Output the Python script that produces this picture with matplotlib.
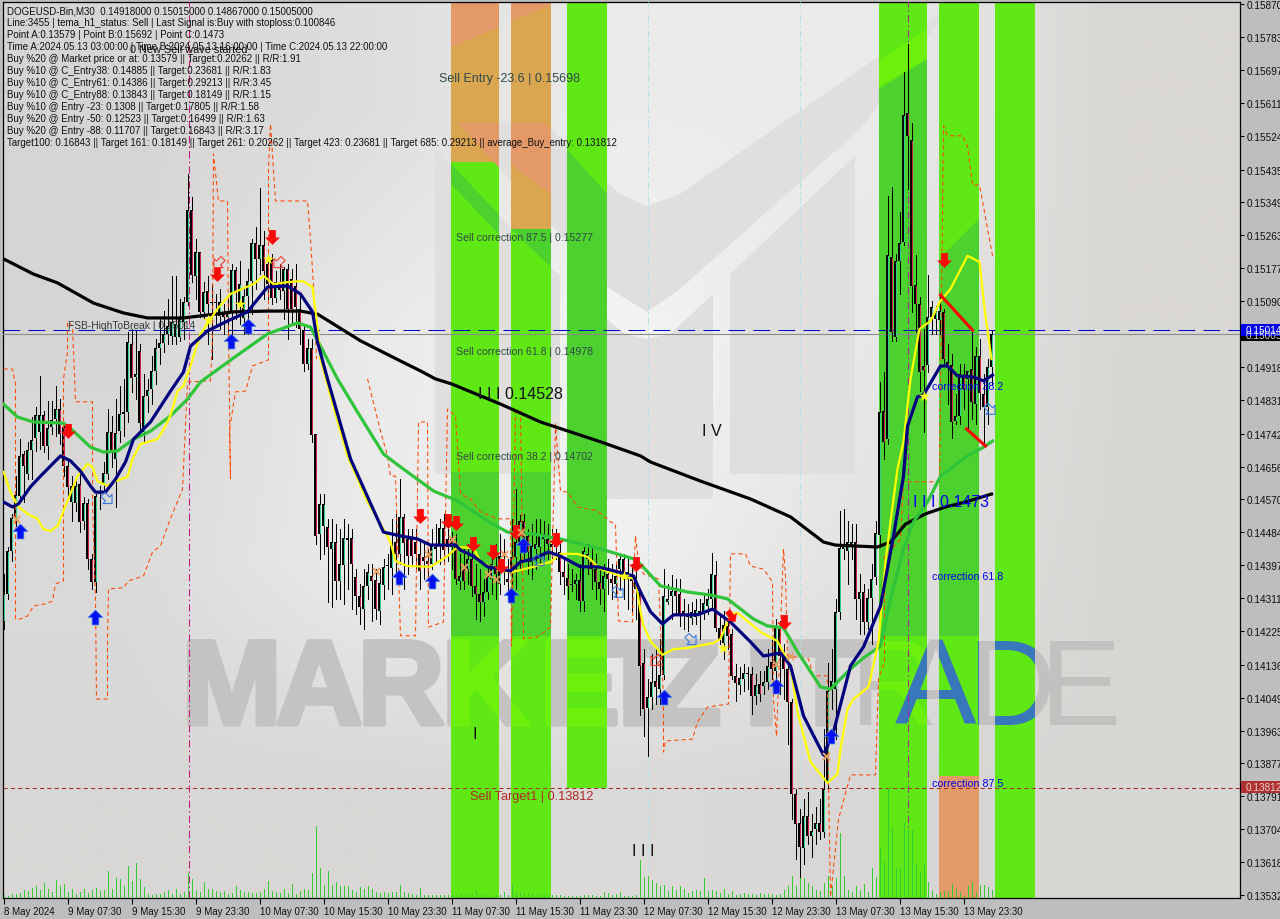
import numpy as np
import matplotlib
matplotlib.use('Agg')
import matplotlib.pyplot as plt
import matplotlib.patheffects as pe
from matplotlib.colors import to_rgb
from matplotlib.patches import Polygon, Rectangle
from matplotlib.path import Path
from matplotlib.transforms import Affine2D, Bbox

# %% data: prices are in 1e-5 units, bars are counted from the left edge

opens = [14251,14322,14435,14521,14579,14689,14637,14700,14731,14747,14791,14710,14760,14781,14807,14760,14658,14563,14561,14610,
 14513,14561,14414,14353,14584,14610,14637,14747,14676,14749,14794,14799,14978,14891,14959,14747,14841,14860,14907,14967,
 14980,15004,14999,14996,14996,15035,15088,15329,15156,15219,15062,15117,15088,15088,15051,15062,15049,15062,15172,15083,
 15046,15104,15143,15243,15201,15238,15188,15198,15098,15140,15117,15175,15148,15130,15070,15014,14925,14967,14742,14479,
 14500,14498,14440,14458,14356,14398,14463,14469,14366,14316,14282,14343,14369,14358,14277,14345,14395,14390,14458,14427,
 14524,14466,14466,14458,14427,14419,14408,14400,14440,14448,14495,14466,14466,14458,14356,14387,14387,14414,14343,14322,
 14301,14327,14361,14387,14348,14414,14361,14387,14419,14458,14513,14474,14406,14440,14445,14466,14466,14453,14445,14432,
 14380,14364,14348,14348,14358,14303,14414,14406,14387,14353,14335,14374,14361,14348,14387,14414,14380,14366,14361,14327,
 14141,14023,14052,14094,14072,14109,14301,14316,14330,14322,14277,14267,14259,14261,14277,14269,14290,14309,14372,14233,
 14194,14238,14217,14107,14083,14099,14114,14112,14054,14086,14080,14091,14143,14120,14230,14164,14125,14038,13797,13721,
 13655,13739,13687,13705,13721,13697,13828,14072,14072,14275,14440,14435,14450,14458,14309,14327,14248,14311,14366,14476,
 14802,14728,15206,14996,15196,15245,15584,15513,15133,15083,14920,14923,15049,15043,15041,15062,14930,14923,14776,14789,
 14896,14886,14912,14820,14946,14847,14812,14917]
highs = [14374,14445,14532,14631,14728,14697,14721,14786,14812,14894,14802,14828,14828,14868,14833,14762,14676,14631,14624,14637,
 14576,14571,14427,14584,14605,14668,14807,14789,14833,14868,14886,15009,15017,15012,14978,14899,14886,14946,14991,15043,
 15064,15096,15156,15156,15096,15101,15424,15363,15253,15219,15140,15156,15135,15109,15122,15083,15096,15188,15180,15195,
 15122,15175,15253,15285,15387,15274,15214,15214,15169,15188,15180,15188,15175,15188,15109,15030,14991,14991,14742,14584,
 14584,14519,14519,14505,14492,14519,14505,14492,14387,14348,14387,14400,14400,14387,14387,14414,14427,14519,14532,14624,
 14532,14492,14492,14492,14466,14453,14440,14492,14505,14519,14532,14492,14484,14479,14427,14440,14453,14440,14400,14387,
 14361,14400,14440,14453,14479,14466,14414,14519,14597,14529,14532,14492,14505,14519,14519,14513,14505,14492,14492,14453,
 14419,14400,14387,14374,14400,14445,14453,14445,14427,14387,14400,14414,14400,14400,14427,14427,14414,14400,14387,14335,
 14177,14099,14164,14177,14204,14387,14348,14372,14361,14361,14309,14296,14301,14309,14309,14322,14335,14429,14408,14269,
 14277,14256,14230,14138,14130,14138,14130,14130,14112,14120,14120,14177,14204,14256,14251,14191,14151,14046,13810,13758,
 13784,13802,13744,13763,13784,13968,14141,14177,14309,14540,14545,14513,14505,14505,14374,14348,14335,14400,14513,14878,
 14904,15366,15390,15214,15324,15692,15765,15558,15211,15101,15017,15159,15091,15077,15101,15070,14978,14952,14846,14925,
 14925,14907,15012,14970,14991,14899,14938,15014]
lows = [14230,14309,14408,14500,14571,14563,14624,14624,14697,14702,14694,14676,14742,14736,14715,14631,14576,14513,14540,14484,
 14492,14387,14335,14327,14545,14592,14624,14655,14550,14721,14736,14773,14852,14833,14747,14721,14799,14820,14873,14925,
 14957,14978,14978,14978,14986,14991,15080,15140,15096,15049,15043,14978,14938,15030,15017,15004,14991,14991,15043,15030,
 15004,15004,15056,15122,15161,15096,15096,15083,15088,15096,15043,14991,15030,15022,14978,14907,14912,14721,14453,14414,
 14427,14301,14288,14309,14309,14296,14335,14282,14269,14243,14230,14309,14251,14256,14243,14309,14335,14322,14361,14400,
 14335,14374,14400,14387,14335,14361,14356,14387,14408,14400,14400,14408,14387,14348,14335,14335,14348,14316,14256,14251,
 14264,14309,14322,14309,14322,14348,14309,14330,14335,14387,14414,14374,14361,14387,14400,14414,14414,14408,14414,14348,
 14322,14309,14330,14309,14277,14277,14374,14335,14309,14296,14277,14322,14309,14314,14335,14309,14282,14277,14256,14004,
 13949,13897,14020,14033,14033,14099,14296,14256,14269,14238,14230,14225,14243,14243,14204,14256,14269,14282,14225,14191,
 14151,14177,14099,14041,14059,14067,14072,14007,14033,14041,14059,14072,14099,14072,14059,14046,13928,13731,13626,13579,
 13613,13666,13631,13666,13679,13684,13810,14020,13941,14256,14414,14348,14414,14256,14217,14217,14230,14191,14348,14445,
 14676,14715,14986,14986,15109,15238,15384,15062,15009,14854,14747,14904,15004,15004,15004,14925,14820,14731,14768,14768,
 14807,14755,14781,14768,14807,14710,14768,14873]
closes = [14322,14435,14521,14582,14684,14658,14700,14726,14791,14791,14710,14757,14778,14807,14742,14658,14602,14605,14605,14511,
 14561,14414,14353,14579,14589,14639,14747,14697,14744,14794,14799,14983,14888,14899,14770,14841,14857,14907,14967,14980,
 15004,15025,15035,15030,15043,15088,15329,15159,15219,15062,15114,15083,15085,15085,15088,15049,15062,15172,15112,15135,
 15104,15143,15243,15201,15238,15169,15135,15098,15140,15119,15175,15070,15070,15075,15017,14925,14967,14739,14474,14558,
 14558,14445,14458,14356,14400,14469,14469,14400,14316,14288,14343,14380,14356,14282,14351,14393,14398,14448,14427,14524,
 14456,14421,14421,14427,14382,14408,14400,14448,14445,14495,14437,14445,14445,14361,14369,14356,14414,14343,14322,14301,
 14327,14369,14400,14374,14421,14387,14353,14419,14458,14513,14471,14432,14448,14453,14479,14479,14453,14445,14458,14380,
 14366,14343,14345,14358,14303,14435,14427,14387,14353,14335,14369,14361,14351,14369,14414,14374,14361,14356,14335,14133,
 14020,14052,14091,14078,14109,14316,14309,14330,14316,14264,14267,14261,14275,14280,14267,14298,14309,14374,14233,14204,
 14241,14212,14107,14088,14101,14114,14112,14054,14083,14059,14091,14133,14125,14235,14159,14125,14038,13797,13718,13658,
 13739,13687,13700,13721,13697,13810,14067,14094,14275,14442,14453,14458,14458,14309,14327,14248,14311,14361,14482,14799,
 14721,15211,15009,15196,15243,15579,15523,15130,15083,14904,14910,15049,15075,15064,15064,14938,14923,14773,14789,14899,
 14860,14907,14825,14946,14849,14812,14917,15004]
volumes = [3,2,4,4,5,8,7,10,12,8,15,9,6,18,12,14,6,9,4,6,9,5,8,10,7,
 8,27,9,20,19,12,32,17,35,19,11,
 4,3,4,4,6,8,4,9,4,6,
 25,19,8,6,16,9,9,7,6,7,4,5,12,8,6,6,5,5,6,9,17,7,6,5,9,5,14,4,7,9,8,
 25,72,30,13,27,13,16,12,12,12,8,6,11,9,12,9,6,5,6,5,6,
 6,13,6,5,4,3,10,3,3,3,3,3,3,3,3,3,4,3,3,3,7,3,3,2,2,3,3,6,3,14,5,5,4,4,4,3,3,3,3,3,3,3,2,2,2,2,2,3,3,3,2,2,6,5,3,4,6,2,2,2,3,
 38,21,22,18,15,12,13,7,12,8,12,9,5,7,8,7,20,7,8,7,5,9,4,7,3,4,5,4,4,3,5,4,4,4,3,4,8,12,22,12,35,20,15,12,8,7,15,22,12,20,65,22,8,6,12,8,
 14,6,30,21,50,36,110,70,30,31,75,68,68,33,26,33,16,8,4,6,7,7,14,9,6,2,12,16,6,13,13,11,8]

ma_slow_x = [0,7.5,13.5,22.5,30,36,45,57.5,66,74.25,78.5,81.75,89.25,99.25,104.25,108,112,124.25,134.25,149.25,159.25,161.75,174.25,186.75,196.75,205,208,218.5,221.75,225.5,230.5,235.5,240.5,247]
ma_slow_y = [15201,15161,15138,15085,15059,15046,15046,15062,15064,15064,15056,15035,14986,14933,14907,14886,14873,14820,14773,14721,14684,14668,14618,14571,14524,14458,14450,14445,14458,14505,14532,14550,14563,14584]

tema_x = [0,2.25,3.75,6.75,9.25,14.25,16.75,19.25,21.75,23,25.5,28,30.5,32.5,36.75,41.75,45,46.75,51,56,61,66,71,74.25,77.25,78.5,81,86.75,95,99.25,103.5,106.75,113,114.25,117.5,121,126.75,129.25,132.5,136.25,139.25,144.25,148.5,153.5,157.5,159.25,161.75,164.75,167.5,173.5,177.25,181.75,186.75,190,194.25,196.75,200,205,207.5,211.75,215,219.25,222.5,225,226,228.5,230,234.25,236,238.5,242.5,245,247.25]
tema_y = [14563,14550,14558,14603,14631,14684,14671,14644,14605,14589,14589,14623,14668,14728,14773,14854,14904,14972,15012,15038,15062,15127,15130,15109,15062,14983,14886,14676,14484,14474,14466,14450,14450,14437,14421,14393,14382,14406,14414,14432,14421,14393,14393,14380,14369,14327,14275,14243,14267,14267,14282,14248,14196,14159,14167,14133,14002,13899,13960,14133,14183,14290,14474,14631,14762,14839,14844,14920,14920,14894,14891,14881,14896]

fast_x = [0,1.75,3.5,6,8.5,10,11.75,13.5,16,18.5,21,22.25,23.5,26,28,31,32.25,34.25,38.5,40.5,41.75,43.5,45,46.75,49.25,53.5,56.75,62.5,65,67.5,71,74.75,77.25,78.5,79.25,82.5,86,91,95,96.75,98,101,106.75,111,113.5,117.5,119.25,124.25,127.5,132.5,136.75,139.25,143.5,146,149.25,154.25,158,159.25,160,161.75,164.75,167.5,171,177.5,179.25,181.75,183.5,189.25,193.5,196.75,198.5,201.75,206,208.5,209.25,211,212.5,216.25,218.75,220.5,221.75,223.5,225,226.75,229,231.75,234.25,236.75,241,244,245.25,247]
fast_y = [14642,14589,14553,14532,14519,14492,14487,14500,14566,14631,14663,14655,14618,14605,14618,14629,14676,14715,14728,14762,14791,14854,14868,14920,15004,15070,15109,15135,15156,15135,15140,15143,15127,15025,14938,14812,14684,14563,14492,14458,14408,14395,14393,14421,14445,14442,14406,14382,14380,14393,14406,14427,14427,14419,14387,14369,14361,14275,14238,14198,14162,14177,14180,14193,14204,14269,14272,14222,14198,14133,14012,13881,13826,13849,13915,14020,14046,14078,14196,14406,14511,14650,14721,14886,15017,15038,15091,15122,15209,15193,15070,14938]

ma_mid_x = [0,3.5,7.5,15,17.5,21.75,25,28.5,32.5,36.75,41.75,46,49.25,57.5,66,73.5,76.75,79.25,83.5,88.5,95,99.25,107.5,113.5,121,126,132.5,139.25,149.25,157.5,159.25,164.25,171,176.75,181,187.5,191,195,198.5,204.25,206.75,211.75,215,219.25,221.75,225,227.5,231,234.25,241,245,247.25]
ma_mid_y = [14820,14786,14773,14770,14749,14707,14694,14697,14728,14749,14789,14833,14878,14941,15004,15033,15022,14972,14886,14799,14689,14655,14592,14566,14513,14484,14479,14466,14440,14414,14400,14343,14327,14319,14309,14256,14238,14233,14170,14078,14072,14125,14154,14185,14309,14440,14511,14563,14631,14684,14707,14723]

stop_x = [0,2.25,3,3,4.25,6,7.5,10.5,12.25,13,15,15,16,16,17.25,18,22.25,22.25,23,23.25,26,26,26.25,30,31.25,35,37.25,39.25,41.5,44.75,46,51.75,52.25,52.5,53.75,56,56.25,56.75,56.5,58,60.5,62.25,66.25,66.25,66.75,68,76,76.75,77.5,78.25,np.nan,
 91,94.25,96,96.75,98,99.25,103,103.75,106,106.25,110,111,113,114.25,116.75,119.25,123.5,126.75,127,128,129.25,130,133.5,136.75,138,139.25,141,143.5,148.5,151.75,153,153.75,157.25,157.5,158,158.75,160,163.75,165,165,165.5,172.25,173.5,176,181.25,181.75,185.5,186.75,190,192.25,192.5,193.25,195,195.5,196,201.25,202.5,206,206.25,206.75,208.75,211,211.75,218,218.75,220.25,220.25,224.25,225,234,235,236,239.75,241,242.25,244,245.25,247.25]
stop_y = [14912,14912,14873,14256,14256,14264,14290,14296,14303,14348,14356,14886,14957,15035,15025,14826,14826,14558,14309,14046,14046,14204,14335,14338,14356,14369,14432,14448,14513,14597,14878,14881,14991,15476,15353,15353,15012,14624,14755,14852,14854,14920,14936,15437,15555,15353,15353,15253,15130,14938,np.nan,
 14886,14749,14684,14631,14631,14212,14212,14773,14773,14235,14248,14807,14789,14584,14571,14537,14519,14519,14185,14802,14802,14204,14209,14235,14768,14592,14589,14550,14540,14511,14505,14251,14248,14361,14474,14406,14374,14361,14046,13907,13936,13941,13986,14025,14033,14427,14427,14395,14387,14353,14046,13949,14440,14369,14159,14151,14107,14107,13828,13527,13731,13818,13847,13847,14099,14143,14419,14466,14616,14616,15550,15524,15524,15497,15395,15395,15324,15209]

sell_x = [16,53.25,67,104,111,113,117.25,122.25,124.25,128,138,158,195,235]
sell_y = [14749,15161,15258,14526,14513,14508,14453,14432,14395,14484,14463,14400,14248,15198]
buy_x = [4,22.75,56.75,61,98.75,107,126.75,129.75,165,193,206.75]
buy_y = [14487,14261,14986,15025,14366,14356,14319,14450,14051,14080,13949]
star_x = [51,59,66,230,179.75,155]
star_y = [15041,15083,15201,14841,14180,14369]
cross_x = [3,93,106,112,115,121,123,125,129.25,193,205.5,196.5]
cross_y = [14519,14382,14427,14466,14393,14374,14361,14427,14484,14138,13897,14159]
hollow_up_x = [26,153.75,172,246.75,134]
hollow_up_y = [14571,14325,14201,14805,14408]
hollow_dn_x = [53.75,68.75,163]
hollow_dn_y = [15190,15190,14146]

bands = [(112,124),(127,137),(141,151),(219,231),(234,244),(248,258)]

price_ticks = [15870,15783,15697,15611,15524,15435,15349,15263,15177,15090,15005,14918,14831,14742,14656,14570,14484,14397,14311,14225,14136,14049,13963,13877,13791,13704,13618,13532]
time_ticks = [0,16,32,48,64,80,96,112,128,144,160,176,192,208,224,240]
time_labels = ['8 May 2024','9 May 07:30','9 May 15:30','9 May 23:30','10 May 07:30','10 May 15:30','10 May 23:30','11 May 07:30',
               '11 May 15:30','11 May 23:30','12 May 07:30','12 May 15:30','12 May 23:30','13 May 07:30','13 May 15:30','13 May 23:30']
header = ['DOGEUSD-Bin,M30  0.14918000 0.15015000 0.14867000 0.15005000',
          'Line:3455 | tema_h1_status: Sell | Last Signal is:Buy with stoploss:0.100846',
          'Point A:0.13579 | Point B:0.15692 | Point C:0.1473',
          'Time A:2024.05.13 03:00:00 | Time B:2024.05.13 16:00:00 | Time C:2024.05.13 22:00:00',
          'Buy %20 @ Market price or at: 0.13579 || Target:0.20262 || R/R:1.91',
          'Buy %10 @ C_Entry38: 0.14885 || Target:0.23681 || R/R:1.83',
          'Buy %10 @ C_Entry61: 0.14386 || Target:0.29213 || R/R:3.45',
          'Buy %10 @ C_Entry88: 0.13843 || Target:0.18149 || R/R:1.15',
          'Buy %10 @ Entry -23: 0.1308 || Target:0.17805 || R/R:1.58',
          'Buy %20 @ Entry -50: 0.12523 || Target:0.16499 || R/R:1.63',
          'Buy %20 @ Entry -88: 0.11707 || Target:0.16843 || R/R:3.17',
          'Target100: 0.16843 || Target 161: 0.18149 || Target 261: 0.20262 || Target 423: 0.23681 || Target 685: 0.29213 || average_Buy_entry: 0.131812']

# %% figure, px is the image pixel space for the decoration layer

plt.rcParams['font.family'] = ['Liberation Sans', 'DejaVu Sans']
fig = plt.figure(figsize=(12.8, 9.2), dpi=100, facecolor='#bebebe')
ax = fig.add_axes([2.5/1280, 21/920, 1237.5/1280, 896/920])
px = Affine2D().scale(1/1280, -1/920).translate(0, 1) + fig.transFigure

# bar i sits on the centre of pixel column 3+4*i
xlim = (-0.25, 309.125)
ylim = (13524/1e5, 15875/1e5)
ax.set_facecolor('#dddddd')

sheen = [['#d6d5d3', '#dededd', '#ececec', '#ebebeb', '#d9d7d4'],
         ['#d7d6d4', '#eaeaea', '#f4f4f4', '#e8e8e8', '#d9d7d4'],
         ['#dadada', '#ececec', '#f0f0f0', '#e3e2e1', '#d8d6d3'],
         ['#d8d7d5', '#d9d7d5', '#dbdad8', '#d8d7d5', '#d7d6d3']]
sheen = np.array([[to_rgb(c) for c in row] for row in sheen])
ax.imshow(sheen, extent=[xlim[0], xlim[1], ylim[0], ylim[1]], origin='upper', aspect='auto',
          interpolation='bilinear', zorder=0)

logo = [[(435,152),(560,277),(560,475),(435,475)],
        [(458,124),(545,124),(620,195),(647,207),(680,195),(950,8),(860,130),(680,290),(647,313),(610,290)],
        [(730,275),(855,157),(855,475),(730,475)],
        [(582,300),(625,335),(647,340),(670,335),(713,295),(713,500),(582,500)]]
for pts in logo:
    ax.add_patch(Polygon(pts, closed=True, transform=px, fc='#e0dfdd', ec='none', zorder=1))

heavy = [pe.withStroke(linewidth=4, foreground='#c4c3c1')]
heavy_lime = [pe.withStroke(linewidth=4, foreground='#6cf00c')]
bold_letters = [('M',182),('A',276),('R',358),('K',442),('E',540),('T',598),('Z',648),('I',745),('T',790)]
thin_letters = [('R',850),('A',895),('D',968),('E',1040)]
for s, xp in bold_letters:
    ax.text(xp, 725, s, transform=px, fontsize=86, fontweight='bold', color='#c4c3c1', va='baseline', zorder=1.5,
            path_effects=heavy)
for s, xp in thin_letters:
    ax.text(xp, 725, s, transform=px, fontsize=88, color='#c2c1bf', va='baseline', zorder=1.5)

# %% bands

green = '#60e814'
dark_green = '#4dd12e'
lime = '#6cf00c'
orange = '#e49a68'
tan = '#dba650'

for k, (a, b) in enumerate(bands):
    ax.fill_between([a-0.125, b-0.125], 13812/1e5 if k == 2 else ylim[0], ylim[1], color=green, lw=0, zorder=2)
b0, b1, b2, b3, b4, b5 = [(3+4*a, 3+4*b) for a, b in bands]


def clipped_poly(pts, band, color, z=2.1):
    p = Polygon(pts, closed=True, transform=px, fc=color, ec='none', zorder=z)
    ax.add_patch(p)
    p.set_clip_path(Rectangle((band[0], 0), band[1]-band[0], 920, transform=px))


def band_letter(s, xp, band, color, size=88, **kw):
    # clip box is in display pixels, the figure is saved at the same dpi
    t = ax.text(xp, 725, s, transform=px, fontsize=size, color=color, va='baseline', zorder=2.6, clip_on=True, **kw)
    t.set_clip_box(Bbox([[band[0], 0], [band[1], 920]]))


# darker parts where the logo shines through
clipped_poly([(451,473),(499,473),(499,637),(451,637)], b0, dark_green)
clipped_poly([(511,473),(551,473),(551,637),(511,637)], b1, dark_green)
clipped_poly([(451,165),(551,270),(551,290),(451,185)], b0, dark_green)
clipped_poly([(511,230),(551,230),(551,268)], b1, dark_green)
clipped_poly([(567,150),(607,195),(607,637),(567,637)], b2, dark_green)
clipped_poly([(879,90),(927,60),(927,637),(879,637)], b3, dark_green)
clipped_poly([(939,260),(979,220),(979,637),(939,637)], b4, dark_green)
clipped_poly([(879,62),(927,30),(927,60),(879,87)], b3, lime)

# orange tops and bottom
ax.fill_between([a-0.125 for a in bands[0]], 15455/1e5, ylim[1], color=orange, lw=0, zorder=2.2)
ax.fill_between([a-0.125 for a in bands[1]], 15280/1e5, ylim[1], color=orange, lw=0, zorder=2.2)
ax.fill_between([a-0.125 for a in bands[4]], ylim[0], 13844/1e5, color=orange, lw=0, zorder=2.2)
clipped_poly([(451,48),(551,6),(551,163),(451,163)], b0, tan, 2.3)
clipped_poly([(511,22),(551,6),(551,230),(511,230)], b1, tan, 2.3)
clipped_poly([(458,124),(545,124),(620,195),(610,290)], b0, orange, 2.4)
clipped_poly([(458,124),(545,124),(585,162),(580,205),(551,195),(530,180)], b1, orange, 2.4)

# the watermark letters again, inside the bands
for s, xp in bold_letters:
    for band in (b0, b1, b2):
        band_letter(s, xp, band, lime, size=86, fontweight='bold', path_effects=heavy_lime)
for s, xp in thin_letters:
    for band in (b3, b4, b5):
        band_letter(s, xp, band, lime if s == 'R' else '#3878ba')

# %% separators and levels

for i, col in [(46.25, '#c71585'), (226, '#a02890'), (161, '#b5e2ea'), (199, '#b5e2ea')]:
    ax.axvline(i, color=col, lw=0.75, ls=(0, (7, 3, 1.5, 3)), zorder=3)
ax.axhline(15005/1e5, color='#8c8c8c', lw=0.8, zorder=3)
ax.axhline(15014/1e5, color='#0000cd', lw=0.75, ls=(0, (16, 8)), zorder=3)
ax.axhline(13812/1e5, color='#a52a2a', lw=0.75, ls=(0, (4, 3)), zorder=3)

# %% volumes and candles

vol_x = np.arange(len(volumes))
ax.vlines(vol_x, ylim[0], ylim[0]+np.array(volumes)*2.624/1e5, color='#33cc33', lw=0.72, antialiased=False, zorder=3.2)

idx = np.arange(len(opens))
o = np.array(opens)/1e5
h = np.array(highs)/1e5
l = np.array(lows)/1e5
c = np.array(closes)/1e5
up = c >= o
ax.vlines(idx, l, h, color='black', lw=0.72, antialiased=False, zorder=4)
top = np.maximum(o, c)
bot = np.minimum(o, c)
ax.bar(idx, top-bot, bottom=bot, width=0.75, color='black', lw=0, antialiased=False, zorder=4.1)
inner = (top-bot) > 0.00006
ax.vlines(idx[up & inner], bot[up & inner]+0.00003, top[up & inner]-0.00003, color='#2fd08a', lw=0.72, antialiased=False, zorder=4.2)
ax.vlines(idx[~up & inner], bot[~up & inner]+0.00003, top[~up & inner]-0.00003, color='#c8244c', lw=0.72, antialiased=False, zorder=4.2)

# %% indicator lines

ax.plot(stop_x, np.array(stop_y)/1e5, color='#ff4500', lw=0.75, ls=(0, (4, 3)), zorder=4.4)
ax.plot(ma_slow_x, np.array(ma_slow_y)/1e5, color='black', lw=2.3, zorder=5)
ax.plot(ma_mid_x, np.array(ma_mid_y)/1e5, color='#2fc43a', lw=2.3, zorder=5.1)
ax.plot(fast_x, np.array(fast_y)/1e5, color='#ffff00', lw=1.6, zorder=5.2)
ax.plot(tema_x, np.array(tema_y)/1e5, color='#00007f', lw=2.3, zorder=5.3)
ax.plot([234.25, 242.25], [15106/1e5, 15014/1e5], color='#ff0000', lw=2.2, zorder=5.4)
ax.plot([240.75, 245.5], [14755/1e5, 14710/1e5], color='#ff0000', lw=2.2, zorder=5.4)

# %% signals

arrow = Path([(0, 1), (1, 0), (0.45, 0), (0.45, -1), (-0.45, -1), (-0.45, 0), (-1, 0), (0, 1)], closed=True)
down = arrow.transformed(Affine2D().rotate_deg(180))
ax.scatter(sell_x, np.array(sell_y)/1e5, marker=down, s=115, color='#ff0808', lw=0, zorder=6)
ax.scatter(buy_x, np.array(buy_y)/1e5, marker=arrow, s=115, color='#0010f0', edgecolor='#4a80e0', lw=0.5, zorder=6)
ax.scatter([181.75], [14264/1e5], marker=arrow.transformed(Affine2D().rotate_deg(215)), s=110, color='#ff0808', lw=0, zorder=6)
ax.scatter(star_x, np.array(star_y)/1e5, marker='*', s=70, color='#ffff10', lw=0, zorder=6)
ax.scatter(cross_x, np.array(cross_y)/1e5, marker='x', s=26, color='#e8a060', lw=1.4, zorder=6)
ax.scatter(hollow_up_x, np.array(hollow_up_y)/1e5, marker=arrow.transformed(Affine2D().rotate_deg(-135)), s=90,
           facecolor='none', edgecolor='#3c78e0', lw=0.8, zorder=6)
ax.scatter(hollow_dn_x, np.array(hollow_dn_y)/1e5, marker=arrow.transformed(Affine2D().rotate_deg(135)), s=90,
           facecolor='none', edgecolor='#f04030', lw=0.8, zorder=6)

# %% texts

for k, line in enumerate(header):
    ax.text(7, 11+12*k, line, transform=px, fontsize=7.05, color='#101010', va='center', zorder=8)
ax.text(130, 50, '0 New Sell wave started', transform=px, fontsize=7.8, color='#101010', va='center', zorder=8)
ax.text(68, 326, 'FSB-HighToBreak | 0.15014', transform=px, fontsize=7.4, color='#303a40', va='center', zorder=8)

slate = '#304848'
ax.text(439, 79, 'Sell Entry -23.6 | 0.15698', transform=px, fontsize=9.0, color=slate, va='center', zorder=8)
ax.text(456, 238, 'Sell correction 87.5 | 0.15277', transform=px, fontsize=7.6, color=slate, va='center', zorder=8)
ax.text(456, 352, 'Sell correction 61.8 | 0.14978', transform=px, fontsize=7.6, color=slate, va='center', zorder=8)
ax.text(456, 457, 'Sell correction 38.2 | 0.14702', transform=px, fontsize=7.6, color=slate, va='center', zorder=8)
ax.text(470, 797, 'Sell Target1 | 0.13812', transform=px, fontsize=9.2, color='#b02828', va='center', zorder=8)
ax.text(478, 395, 'I I I 0.14528', transform=px, fontsize=11.5, color='#101010', va='center', zorder=8)
ax.text(702, 432, 'I V', transform=px, fontsize=11.5, color='#101010', va='center', zorder=8)
ax.text(473, 735, 'I', transform=px, fontsize=11.5, color='#101010', va='center', zorder=8)
ax.text(632, 852, 'I I I', transform=px, fontsize=11.5, color='#101010', va='center', zorder=8)
ax.text(913, 503, 'I I I 0.1473', transform=px, fontsize=11.5, color='#0000ee', va='center', zorder=8)
for yp, s in [(387, 'correction 38.2'), (577, 'correction 61.8'), (784, 'correction 87.5')]:
    ax.text(932, yp, s, transform=px, fontsize=7.7, color='#0000ee', va='center', zorder=8)

# %% axes

ax.set_xlim(xlim)
ax.set_ylim(ylim)
ax.yaxis.tick_right()
ax.set_yticks(np.array(price_ticks)/1e5)
ax.set_yticklabels([f'{p/1e5:.5f}' for p in price_ticks], fontsize=7.2, color='#101010')
ax.tick_params(axis='y', length=3, width=0.75, pad=2, color='black')
ax.set_xticks(time_ticks)
ax.set_xticklabels(time_labels, fontsize=7.0, color='#101010', ha='left')
ax.tick_params(axis='x', length=4, width=0.75, pad=2, color='black')
for s in ax.spines.values():
    s.set_color('black')
    s.set_linewidth(0.9)

for yp, hgt, fc, fg, s in [(336, 12, 'black', '#d0d0d0', '0.15005'), (331, 12, '#0000ee', 'white', '0.15014'),
                           (788, 12, '#b03030', '#e8d0d0', '0.13812')]:
    ax.add_patch(Rectangle((1241, yp-hgt/2), 39, hgt, transform=px, fc=fc, ec='none', zorder=9, clip_on=False))
    ax.text(1246, yp, s, transform=px, fontsize=7.2, color=fg, va='center', zorder=10, clip_on=False)

fig.savefig('out.png', dpi=100, facecolor=fig.get_facecolor())
print(len(opens), len(highs), len(lows), len(closes), len(volumes))
